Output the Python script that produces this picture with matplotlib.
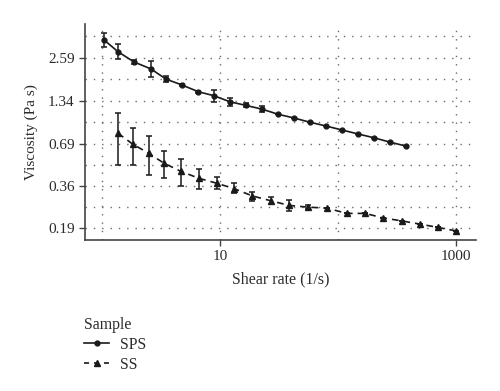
import numpy as np
import matplotlib
matplotlib.use("Agg")
import matplotlib.pyplot as plt
from matplotlib.lines import Line2D

plt.rcParams['font.family'] = ['Liberation Serif', 'DejaVu Serif']

# SPS data
sps_x = [1.04, 1.37, 1.88, 2.6, 3.5, 4.77, 6.59, 8.9, 12.2, 16.6, 22.7, 31.2, 42.4,
         57.9, 79.1, 108, 148, 201, 274, 375]
sps_y = [3.42, 2.85, 2.43, 2.19, 1.87, 1.71, 1.54, 1.45, 1.32, 1.25, 1.18, 1.09, 1.03,
         0.965, 0.911, 0.857, 0.806, 0.761, 0.712, 0.670]
sps_lo = [3.05, 2.56, 2.36, 1.93, 1.78, 1.68, 1.52, 1.32, 1.24, 1.21, 1.13, 1.09, 1.03,
          0.965, 0.911, 0.857, 0.806, 0.761, 0.712, 0.670]
sps_hi = [3.79, 3.20, 2.51, 2.46, 1.97, 1.74, 1.56, 1.59, 1.41, 1.29, 1.24, 1.09, 1.03,
          0.965, 0.911, 0.857, 0.806, 0.761, 0.712, 0.670]

# SS data
ss_x = [1.37, 1.82, 2.49, 3.37, 4.67, 6.64, 9.43, 13.2, 18.9, 27.0, 38.6, 55.7, 80.7,
        119, 170, 242, 348, 495, 703, 1000]
ss_y = [0.815, 0.691, 0.599, 0.514, 0.454, 0.408, 0.378, 0.348, 0.311, 0.289, 0.269,
        0.262, 0.258, 0.238, 0.238, 0.222, 0.212, 0.202, 0.192, 0.182]
ss_lo = [0.498, 0.503, 0.429, 0.412, 0.361, 0.344, 0.346, 0.327, 0.288, 0.275, 0.248,
         0.253, 0.258, 0.238, 0.238, 0.222, 0.212, 0.202, 0.192, 0.182]
ss_hi = [1.12, 0.879, 0.777, 0.623, 0.549, 0.473, 0.416, 0.378, 0.332, 0.306, 0.291,
         0.270, 0.258, 0.238, 0.238, 0.222, 0.212, 0.202, 0.192, 0.182]

y_ticks = [0.19, 0.36, 0.69, 1.34, 2.59]
y_tick_labels = ["0.19", "0.36", "0.69", "1.34", "2.59"]
x_ticks = [10, 1000]
x_tick_labels = ["10", "1000"]
x_grid = [1, 10, 100, 1000]

txt = '#2b2b2b'
fig = plt.figure(figsize=(5, 3.91), dpi=100)
ax = fig.add_axes([0.17, 0.386, 0.782, 0.553])
ax.set_xscale('log')
ax.set_yscale('log')
ax.set_xlim(0.72, 1480)
ax.set_ylim(0.158, 4.37)

def errs(y, lo, hi):
    y = np.array(y); return [y - np.array(lo), np.array(hi) - y]

ax.errorbar(sps_x, sps_y, yerr=errs(sps_y, sps_lo, sps_hi), color='#1a1a1a', lw=1.2,
            marker='o', ms=3.5, capsize=2.2, elinewidth=1.1, capthick=1.1, zorder=3)
ax.errorbar(ss_x, ss_y, yerr=errs(ss_y, ss_lo, ss_hi), color='#1a1a1a', lw=1.2,
            ls=(0, (4, 3)), marker='^', ms=4, capsize=2.2, elinewidth=1.1,
            capthick=1.1, zorder=3)

# grid
grid_kw = dict(color='#6a6a6a', lw=1.0, ls=(0, (1, 5)), zorder=1)
for gx in x_grid:
    ax.axvline(gx, **grid_kw)
yminor = [np.sqrt(a * b) for a, b in zip(y_ticks[:-1], y_ticks[1:])]
yminor.append(y_ticks[-1] * np.sqrt(y_ticks[-1] / y_ticks[-2]))
for gy in list(y_ticks) + yminor:
    ax.axhline(gy, **grid_kw)

ax.set_yticks(y_ticks)
ax.set_yticklabels(y_tick_labels)
ax.yaxis.set_minor_locator(matplotlib.ticker.NullLocator())
ax.set_xticks(x_ticks)
ax.set_xticklabels(x_tick_labels)
ax.xaxis.set_minor_locator(matplotlib.ticker.NullLocator())
ax.tick_params(axis='both', colors='#444444', labelcolor=txt, labelsize=11,
               length=4, width=1.0, direction='out')

for s in ['top', 'right']:
    ax.spines[s].set_visible(False)
for s in ['left', 'bottom']:
    ax.spines[s].set_color('#444444')
    ax.spines[s].set_linewidth(1.2)

ax.set_xlabel('Shear rate (1/s)', fontsize=11.4, color=txt, labelpad=6)
ax.set_ylabel('Viscosity (Pa s)', fontsize=11, color=txt, labelpad=7)

handles = [Line2D([], [], color='#1a1a1a', lw=1.2, marker='o', ms=3.5),
           Line2D([], [], color='#1a1a1a', lw=1.2, ls=(0, (3, 3)), marker='^', ms=4)]
leg = fig.legend(handles, ['SPS', 'SS'], loc='upper left',
                 bbox_to_anchor=(0.168, 0.19), frameon=False, borderaxespad=0,
                 title='Sample', fontsize=11.4, title_fontsize=11.4, handlelength=1.6,
                 handletextpad=0.7, labelspacing=0.25, borderpad=0)
leg._legend_box.align = 'left'
for t in leg.get_texts():
    t.set_color(txt)
leg.get_title().set_color(txt)

fig.savefig('out.png', dpi=100)
